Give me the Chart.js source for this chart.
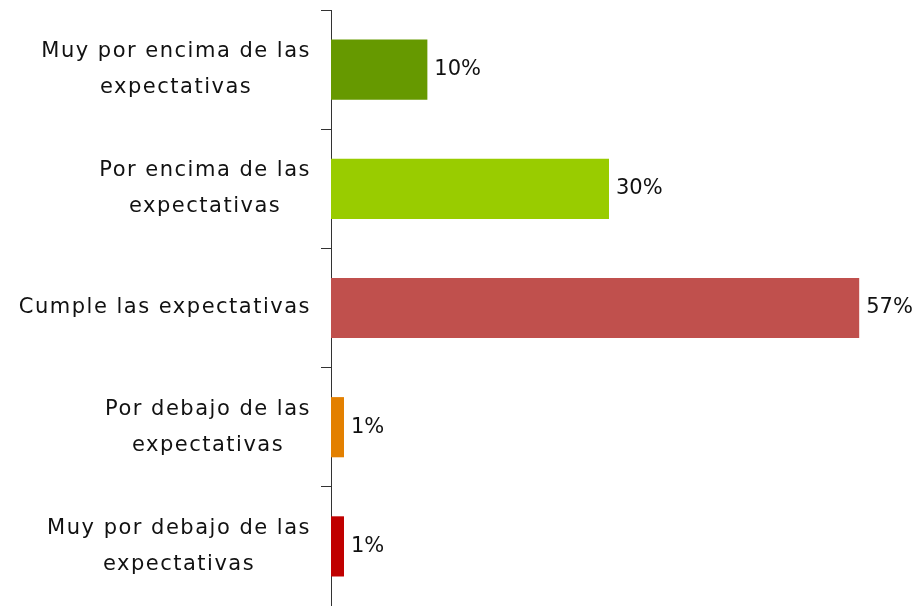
<!DOCTYPE html>
<html>
<head>
<meta charset="utf-8">
<script src="https://cdn.jsdelivr.net/npm/chart.js@4/dist/chart.umd.min.js"></script>
<style>
    html, body { margin: 0; padding: 0; background: #fff; }
    #wrap { width: 915px; height: 606px; }
</style>
</head>
<body>
<div id="wrap"><canvas id="barChart"></canvas></div>
<script>
const categories = [
    ['Muy por encima de las', 'expectativas'],
    ['Por encima de las', 'expectativas'],
    ['Cumple las expectativas'],
    ['Por debajo de las', 'expectativas'],
    ['Muy por debajo de las', 'expectativas'],
]
const values = [10.4, 30, 57, 1.4, 1.4]
const barColors = ['#669900', '#99cc00', '#c0504d', '#e38000', '#c00000']

const FONT = '"DejaVu Sans", sans-serif'

// category labels: block right aligned, lines centred inside the block
const categoryLabels = {
    id: 'categoryLabels',
    afterDraw(chart) {
        const ctx = chart.ctx
        const yScale = chart.scales.y
        ctx.save()
        ctx.font = '21px ' + FONT
        ctx.letterSpacing = '1.5px'
        ctx.fillStyle = '#111'
        ctx.textAlign = 'center'
        ctx.textBaseline = 'middle'
        const lineH = 36
        categories.forEach((lines, i) => {
            const y = yScale.getPixelForValue(i)
            const widest = Math.max(...lines.map(l => ctx.measureText(l).width))
            const cx = yScale.right - 20 - widest / 2
            lines.forEach((line, j) => {
                ctx.fillText(line, cx, y + (j - (lines.length - 1) / 2) * lineH)
            })
        })
        ctx.restore()
    }
}

const valueLabels = {
    id: 'valueLabels',
    afterDatasetsDraw(chart) {
        const ctx = chart.ctx
        const meta = chart.getDatasetMeta(0)
        ctx.save()
        ctx.font = '21px ' + FONT
        ctx.fillStyle = '#111'
        ctx.textAlign = 'left'
        ctx.textBaseline = 'middle'
        meta.data.forEach((bar, i) => {
            ctx.fillText(Math.round(values[i]) + '%', bar.x + 7, bar.y)
        })
        ctx.restore()
    }
}

new Chart(document.getElementById('barChart'), {
    type: 'bar',
    data: {
        labels: categories,
        datasets: [{
            data: values,
            backgroundColor: barColors,
            barPercentage: 0.505,
            categoryPercentage: 1,
        }]
    },
    options: {
        indexAxis: 'y',
        responsive: true,
        maintainAspectRatio: false,
        animation: false,
        layout: { padding: { top: 10, right: 28, bottom: 0, left: 0 } },
        plugins: {
            legend: { display: false },
            tooltip: { enabled: false },
        },
        scales: {
            x: {
                display: false,
                min: 0,
                max: 60,
            },
            y: {
                offset: true,
                ticks: { display: false },
                grid: {
                    offset: true,
                    drawOnChartArea: false,
                    drawTicks: true,
                    tickLength: 10,
                    color: '#333',
                    lineWidth: 1,
                },
                border: { display: true, color: '#333', width: 1 },
                afterFit(scale) { scale.width = 331 },
            }
        }
    },
    plugins: [categoryLabels, valueLabels]
})
</script>
</body>
</html>
